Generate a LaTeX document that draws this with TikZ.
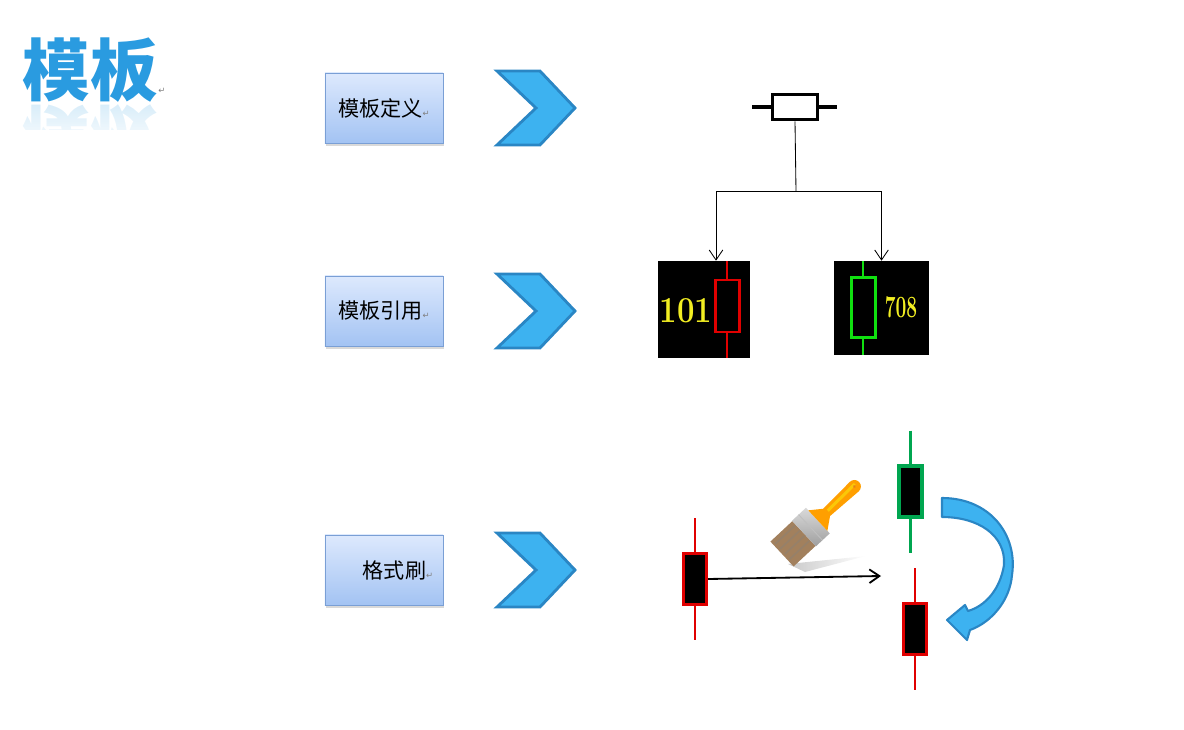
\documentclass[tikz,border=0pt]{standalone}
\usepackage{fontspec}
\usepackage{xcolor}
\newfontfamily\cjk{Noto Sans CJK SC}
\newfontfamily\symb{DejaVu Sans}
\usetikzlibrary{arrows.meta,shadows,fadings}
\newcommand\retmark{{\symb\fontsize{6}{6}\selectfont\textcolor{gray}{↵}}}

\begin{document}
\begin{tikzpicture}[x=0.025cm,y=-0.025cm,
  menubox/.style={draw=boxedge,line width=0.6pt,top color=boxtop,bottom color=boxbot,
    minimum width=2.95cm,minimum height=1.75cm,
    drop shadow={shadow xshift=0.3mm,shadow yshift=-0.7mm,opacity=0.3},
    font=\cjk\fontsize{15}{18}\selectfont},
  chev/.style={fill=chevfill,draw=chevedge,line width=2pt,line join=miter},
  kbody/.style={draw=#1,fill=black,line width=1.5pt,minimum width=0.6cm,inner sep=0},
  cbody/.style={draw=#1,fill=black,line width=2.2pt,minimum width=0.575cm,minimum height=1.275cm,inner sep=0},
  tip/.style={-{Straight Barb[length=0.25cm,width=0.34cm]}}]
\definecolor{titleblue}{HTML}{2A9BE0}
\definecolor{boxtop}{HTML}{DDE9FD}
\definecolor{boxbot}{HTML}{A3C3F3}
\definecolor{boxedge}{HTML}{7A9FD5}
\definecolor{chevfill}{HTML}{3DB2F0}
\definecolor{chevedge}{HTML}{2A86C4}
\definecolor{kred}{HTML}{E00000}
\definecolor{kgreen}{HTML}{00A650}
\definecolor{lgreen}{HTML}{10E010}
\definecolor{numyellow}{HTML}{F2EE22}
\useasboundingbox (0,0) rectangle (1184,730);

% title with its reflection
\node[font=\cjk\bfseries\fontsize{48}{48}\selectfont,text=titleblue,inner sep=0] (title) at (90,70) {模板};
\node[font=\cjk\bfseries\fontsize{48}{48}\selectfont,text=titleblue,text opacity=0.18,inner sep=0,anchor=north]
  (mirror) at ([yshift=-0.05cm]title.south) {\scalebox{1}[-1]{模板}};
\fill[white,path fading=north] (15,104) rectangle (170,150);
\fill[white] (15,130) rectangle (170,175);
\node[inner sep=0] (tmark) at (162,91) {\retmark};

% steps on the left
\foreach \ty/\txt/\dx in {108/模板定义/0, 311/模板引用/0, 570/格式刷/20}
{ \node[menubox] (box\ty) at (384,\ty) {\hspace*{\dx pt}\txt\retmark};
  \filldraw[chev] (497,\ty-37) -- (540,\ty-37) -- (575,\ty) -- (540,\ty+37) -- (497,\ty+37) -- (536,\ty) -- cycle;}

% template and its two uses
\node[draw,line width=2.5pt,minimum width=1.125cm,minimum height=0.625cm,inner sep=0] (tpl) at (795,107) {};
\draw[line width=2.2pt] (tpl.west) -- ++(-19,0) (tpl.east) -- ++(18,0);
\node[fill=black,minimum width=2.3cm,minimum height=2.425cm,inner sep=0] (k101) at (704,309.5) {};
\node[fill=black,minimum width=2.375cm,minimum height=2.35cm,inner sep=0] (k708) at (881.5,308) {};
\draw[kred,line width=2pt] (727,261) -- (727,358);
\node[kbody=kred,minimum height=1.3cm] (b101) at (727.5,306) {};
\draw[lgreen,line width=2pt] (863,261) -- (863,355);
\node[kbody=lgreen,minimum height=1.5cm] (b708) at (863.5,307.5) {};
\node[text=numyellow,font=\bfseries\fontsize{26}{26}\selectfont,inner sep=0] (n101) at (686,311) {\scalebox{0.85}[1]{101}};
\node[text=numyellow,font=\bfseries\fontsize{22}{22}\selectfont,inner sep=0] (n708) at (901,307) {\scalebox{0.62}[1]{708}};
\coordinate (fork) at (796,191);
\draw[line width=0.6pt] (tpl.south) -- (fork);
\draw[line width=0.6pt,tip] (fork) -| ([xshift=0.3cm]k101.north);
\draw[line width=0.6pt,tip] (fork) -| (k708.north);

% format painter
\foreach \cx/\cy/\col/\nm in {695/579/kred/src, 910.5/491.5/kgreen/dst, 915/629/kred/res}
{ \draw[\col,line width=2pt] (\cx,\cy-61) -- (\cx,\cy+61);
  \node[cbody=\col] (\nm) at (\cx,\cy) {};}
\coordinate (painted) at (881,576);
\draw[line width=1.3pt,tip] (src.east) -- (painted);
\filldraw[chev,line width=1.5pt,line join=round] (942,498) .. controls (990,498) and (1018,535) .. (1012,575)
  .. controls (1010,600) and (992,622) .. (970,630) -- (967,640) -- (947,620) -- (965,605) -- (968,611)
  .. controls (985,606) and (1000,590) .. (1004,565) .. controls (1006,535) and (978,517) .. (942,517) -- cycle;

% the brush
\fill[gray!70,opacity=0.6,path fading=east] (788,564) -- (866,556) -- (805,572) -- cycle;
\begin{scope}[shift={(782,554)},rotate=43]
  \fill[brown!55!gray] (0,-17) -- (30,-17) -- (30,17) -- (0,17) -- cycle;
  \foreach \sv in {-12,-5,2,9}
  { \draw[brown!35!gray,line width=1.2pt] (2,\sv) -- (29,\sv);}
  \shade[top color=gray!30,bottom color=gray!75] (30,-17.5) rectangle (49,17.5);
  \draw[gray!50,line width=0.6pt] (39,-17.5) -- (39,17.5);
  \fill[orange!75!yellow] (49,-14) -- (61,-5) -- (99,-6.5) arc (-90:90:6.5) -- (61,5) -- (49,14) -- cycle;
  \fill[yellow!60!orange] (63,-2) -- (101,-3) -- (101,0) -- (63,1) -- cycle;
  \fill[orange!60!brown] (99,0) circle (1.5);
\end{scope}
\end{tikzpicture}
\end{document}
